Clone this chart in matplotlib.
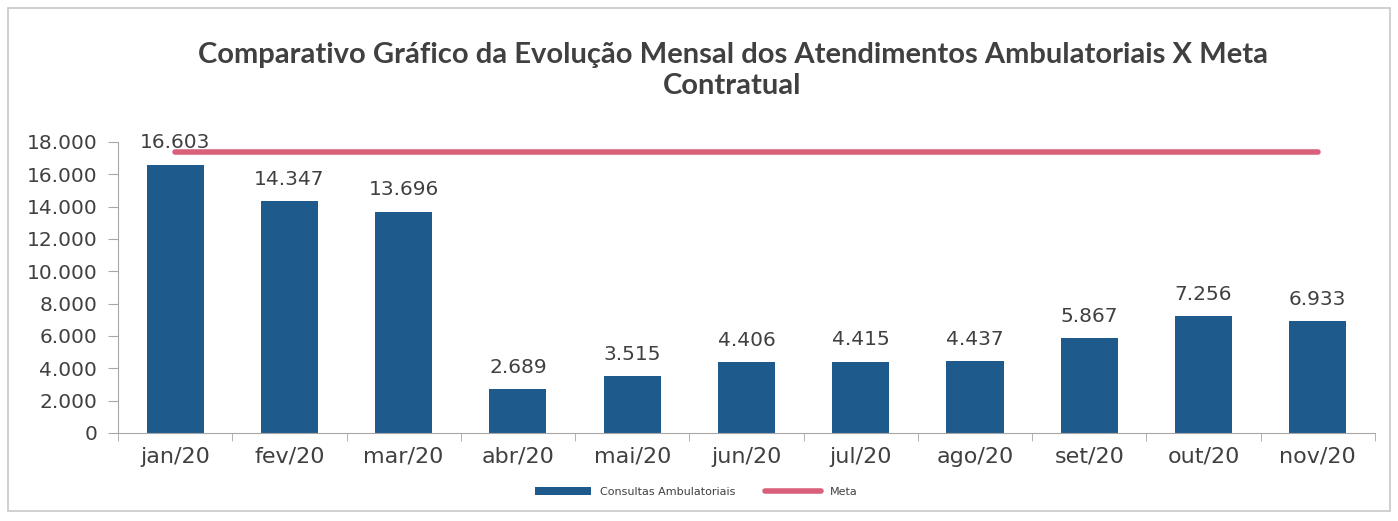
import numpy as np
import matplotlib.pyplot as plt
from matplotlib.patches import Rectangle

months = ["jan/20", "fev/20", "mar/20", "abr/20", "mai/20", "jun/20",
          "jul/20", "ago/20", "set/20", "out/20", "nov/20"]
consultas = [16603, 14347, 13696, 2689, 3515, 4406, 4415, 4437, 5867, 7256, 6933]
meta = [17400] * 11

bar_color = "#1f5a8c"
meta_color = "#d9607a"
text_color = "#404040"
axis_color = "#a6a6a6"


def fmt(v):
    return "{:,}".format(v).replace(",", ".")


fig = plt.figure(figsize=(13.98, 5.21), dpi=100)
fig.patches.append(Rectangle((0.006, 0.02), 0.988, 0.965, transform=fig.transFigure,
                             fill=False, edgecolor="#c8c8c8", linewidth=1.2))
ax = fig.add_axes([0.0844, 0.169, 0.8991, 0.5585])

x = np.arange(len(months))
bars = ax.bar(x, consultas, width=0.5, color=bar_color, label="Consultas Ambulatoriais", zorder=2)
line, = ax.plot(x, meta, color=meta_color, linewidth=4, solid_capstyle="round", label="Meta", zorder=3)

for xi, v in zip(x, consultas):
    ax.text(xi, v + 750, fmt(v), ha="center", va="bottom", fontsize=14.5, color=text_color)

ax.set_xlim(-0.5, len(months) - 0.5)
ax.set_ylim(0, 18000)
ax.set_yticks(range(0, 18001, 2000))
ax.set_yticklabels([fmt(v) for v in range(0, 18001, 2000)])
ax.set_xticks(x)
ax.set_xticklabels(months)
ax.set_xticks(np.arange(-0.5, len(months)), minor=True)
ax.tick_params(axis="x", which="major", length=0, pad=10, labelsize=16, labelcolor=text_color)
ax.tick_params(axis="x", which="minor", length=6, color=axis_color)
ax.tick_params(axis="y", length=7, color=axis_color, labelsize=14.5, labelcolor=text_color, pad=8)

for s in ["top", "right"]:
    ax.spines[s].set_visible(False)
for s in ["left", "bottom"]:
    ax.spines[s].set_color(axis_color)

fig.text(0.524, 0.865, "Comparativo Gráfico da Evolução Mensal dos Atendimentos Ambulatoriais X Meta\nContratual",
         ha="center", va="center", fontsize=21, fontweight="bold", color=text_color,
         family="Lato", linespacing=1.25)

ax.legend([bars, line], ["Consultas Ambulatoriais", "Meta"],
          loc="upper center", bbox_to_anchor=(0.46, -0.15), ncol=2, frameon=False,
          fontsize=8, handlelength=5, handletextpad=0.8, columnspacing=2.7, labelcolor=text_color)

fig.savefig("out.png", dpi=100)
